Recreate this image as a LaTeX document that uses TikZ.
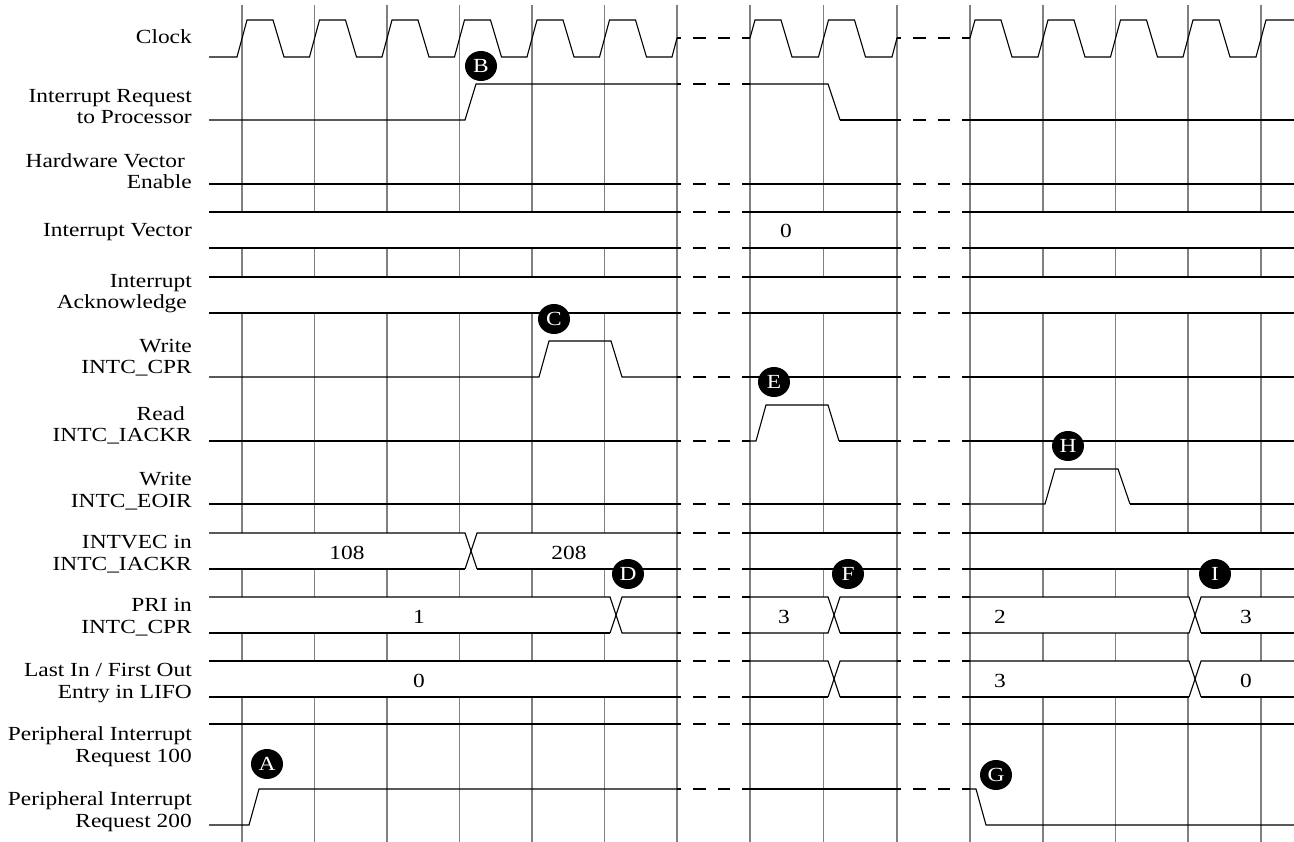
\documentclass[tikz,border=0pt]{standalone}
\usepackage{fontspec}
\setmainfont{Liberation Serif}[FakeStretch=1.17]
\usetikzlibrary{shapes.geometric}
\tikzset{
  grd/.style={draw=black!50,line width=1.5pt},
  sig/.style={line width=1.1pt},
  sigt/.style={line width=2pt},
  brk/.style={line width=2pt,dash pattern=on 12.5pt off 12pt,dash phase=8.5pt},
  lbl/.style={align=right,anchor=base east,inner sep=0pt,font=\fontsize{20}{21.5}\selectfont},
  val/.style={inner sep=0pt,font=\fontsize{20}{21.5}\selectfont},
  tag/.style={ellipse,fill=black,text=white,minimum width=32pt,minimum height=30pt,inner sep=0pt,font=\fontsize{20}{20}\selectfont}
}

\begin{document}
\begin{tikzpicture}[x=1pt,y=-1pt]
\useasboundingbox (0,0) rectangle (1294,842);

% grid
\foreach \gx in {242,314.5,387,459.5,532,604.5,677,750,823.5,897,970,1043,1115.5,1188,1261}
  \draw[grd] (\gx,5) -- (\gx,842);
% bus bands hide the grid
\foreach \ya/\yb in {212/248,277/313,533/569,597/633,661/697}
  \foreach \xa/\xb in {209/677,750/897,970/1294}
    \fill[white] (\xa,\ya) rectangle (\xb,\yb);
\foreach \gx in {677,750,897,970}
  \draw[grd] (\gx,5) -- (\gx,842);

% breaks
\foreach \yy in {38,184,212,248,277,313,377,441,504,533,569,597,633,661,697,724,789} {
  \draw[brk] (677,\yy) -- (750,\yy);
  \draw[brk] (897,\yy) -- (970,\yy);
}
\draw[brk] (677,84) -- (750,84);
\draw[brk] (897,120) -- (970,120);

% clock
\draw[sig] (209,57) \foreach \x in {242,314.5,387,459.5,532,604.5} {-- (\x-5,57) -- (\x+5,20) -- (\x+31,20) -- (\x+42,57)} -- (672,57) -- (677,38);
\draw[sig] (750,38) -- (755,20) -- (781,20) -- (792,57) -- (818.5,57) -- (828.5,20) -- (854.5,20) -- (865.5,57) -- (892,57) -- (897,38);
\draw[sig] (970,38) -- (975,20) -- (1001,20) -- (1012,57) \foreach \x in {1043,1115.5,1188} {-- (\x-5,57) -- (\x+5,20) -- (\x+31,20) -- (\x+42,57)} -- (1256,57) -- (1266,20) -- (1294,20);

% interrupt request
\draw[sig] (209,120) -- (465,120) -- (476,84) -- (677,84);
\draw[sig] (750,84) -- (828,84) -- (840,120);
\draw[sigt] (840,120) -- (897,120);
\draw[sigt] (970,120) -- (1294,120);

% hardware vector enable, interrupt vector, acknowledge
\foreach \xa/\xb in {209/677,750/897,970/1294} {
  \draw[sig] (\xa,184) -- (\xb,184);
  \draw[sig] (\xa,212) -- (\xb,212);
  \draw[sig] (\xa,248) -- (\xb,248);
  \draw[sigt] (\xa,277) -- (\xb,277);
  \draw[sigt] (\xa,313) -- (\xb,313);
}

% write INTC_CPR
\draw[sig] (209,377) -- (539,377) -- (549,341) -- (611,341) -- (622,377) -- (677,377);
\draw[sig] (750,377) -- (897,377);
\draw[sig] (970,377) -- (1294,377);

% read INTC_IACKR
\draw[sig] (209,441) -- (677,441);
\draw[sig] (750,441) -- (756,441) -- (766,405) -- (828,405) -- (839,441);
\draw[sigt] (839,441) -- (897,441);
\draw[sigt] (970,441) -- (1294,441);

% write INTC_EOIR
\draw[sig] (209,504) -- (677,504);
\draw[sig] (750,504) -- (897,504);
\draw[sig] (970,504) -- (1045,504) -- (1055,469) -- (1118,469) -- (1130,504);
\draw[sigt] (1130,504) -- (1294,504);

% INTVEC in INTC_IACKR
\draw[sig] (209,533) -- (465,533) -- (477,569);
\draw[sig] (465,569) -- (477,533) -- (677,533);
\draw[sigt] (209,569) -- (465,569);
\draw[sigt] (477,569) -- (677,569);
\draw[sig] (750,533) -- (897,533);
\draw[sigt] (750,569) -- (897,569);
\draw[sig] (970,533) -- (1294,533);
\draw[sigt] (970,569) -- (1294,569);

% PRI in INTC_CPR
\draw[sig] (209,597) -- (610,597) -- (622,633) -- (677,633);
\draw[sig] (610,633) -- (622,597) -- (677,597);
\draw[sigt] (209,633) -- (610,633);
\draw[sig] (750,597) -- (828,597) -- (840,633);
\draw[sig] (750,633) -- (828,633) -- (840,597) -- (897,597);
\draw[sigt] (840,633) -- (897,633);
\draw[sig] (970,597) -- (1189,597) -- (1201,633);
\draw[sig] (970,633) -- (1189,633) -- (1201,597) -- (1294,597);
\draw[sigt] (1201,633) -- (1294,633);

% LIFO
\draw[sig] (209,661) -- (677,661);
\draw[sigt] (209,697) -- (677,697);
\draw[sig] (750,661) -- (828,661) -- (840,697);
\draw[sig] (828,697) -- (840,661) -- (897,661);
\draw[sigt] (750,697) -- (828,697);
\draw[sigt] (840,697) -- (897,697);
\draw[sig] (970,661) -- (1189,661) -- (1201,697);
\draw[sig] (1189,697) -- (1201,661) -- (1294,661);
\draw[sigt] (970,697) -- (1189,697);
\draw[sigt] (1201,697) -- (1294,697);

% peripheral requests
\draw[sigt] (209,724) -- (677,724);
\draw[sigt] (750,724) -- (897,724);
\draw[sigt] (970,724) -- (1294,724);
\draw[sig] (209,825) -- (249,825) -- (259,789) -- (677,789);
\draw[sig] (750,789) -- (897,789);
\draw[sig] (970,789) -- (976,789) -- (986,825) -- (1294,825);

% signal names
\node[lbl] (lclk) at (192,44) {Clock};
\node[lbl] (lirq) at (192,124) {Interrupt Request\\to Processor};
\node[lbl] (lhve) at (192,189) {Hardware Vector\hspace*{7pt}\\Enable};
\node[lbl] (livec) at (192,236.5) {Interrupt Vector};
\node[lbl] (lack) at (192,309) {Interrupt\\Acknowledge\hspace*{5pt}};
\node[lbl] (lwcpr) at (192,374) {Write\\INTC\_CPR};
\node[lbl] (lriack) at (192,442) {Read\hspace*{7pt}\\INTC\_IACKR};
\node[lbl] (lweoir) at (192,507) {Write\\INTC\_EOIR};
\node[lbl] (lintvec) at (192,570) {INTVEC in\\INTC\_IACKR};
\node[lbl] (lpri) at (192,633) {PRI in\\INTC\_CPR};
\node[lbl] (llifo) at (192,698) {Last In / First Out\\Entry in LIFO};
\node[lbl] (lpir1) at (192,762) {Peripheral Interrupt\\Request 100};
\node[lbl] (lpir2) at (192,827) {Peripheral Interrupt\\Request 200};

% bus values
\node[val] (vivec) at (786,231) {0};
\node[val] (v108) at (347,553) {108};
\node[val] (v208) at (569,553) {208};
\node[val] (vpri1) at (419,617) {1};
\node[val] (vpri3a) at (784,617) {3};
\node[val] (vpri2) at (1000,617) {2};
\node[val] (vpri3b) at (1246,617) {3};
\node[val] (vlifo0a) at (419,681) {0};
\node[val] (vlifo3) at (1000,681) {3};
\node[val] (vlifo0b) at (1246,681) {0};

% event tags
\node[tag] (tA) at (267,764) {A};
\node[tag] (tB) at (481,66) {B};
\node[tag] (tC) at (554,319) {C};
\node[tag] (tD) at (628,574) {D};
\node[tag] (tE) at (774,382) {E};
\node[tag] (tF) at (848,574) {F};
\node[tag] (tG) at (996,775) {G};
\node[tag] (tH) at (1068,446) {H};
\node[tag] (tI) at (1215,574) {I};
\end{tikzpicture}
\end{document}
